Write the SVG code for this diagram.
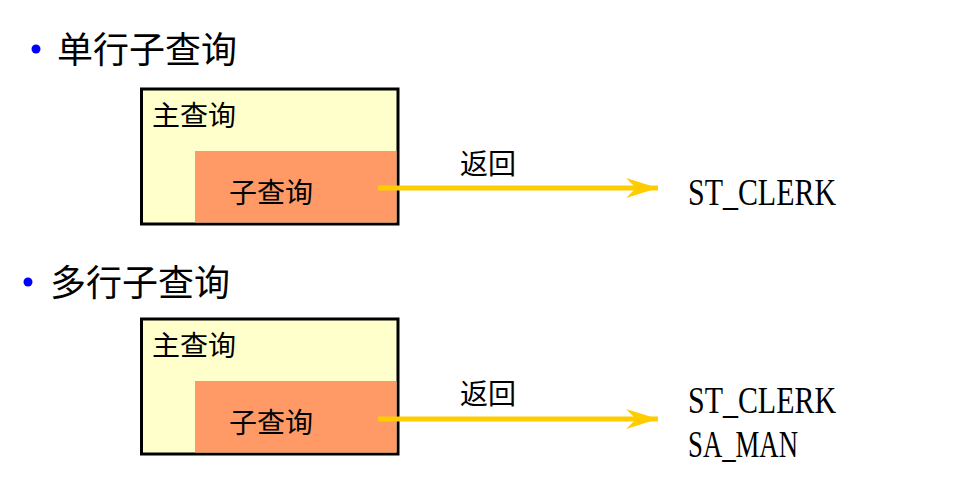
<svg xmlns="http://www.w3.org/2000/svg" width="959" height="502" viewBox="0 0 959 502">
  <style>
    .title { font-family: "Noto Sans CJK SC", sans-serif; font-size: 36px; fill: #000; }
    .cjk { font-family: "Noto Sans CJK SC", sans-serif; font-size: 28px; fill: #000; }
    .val { font-family: "Liberation Serif", "Noto Sans CJK SC", serif; font-size: 38px; fill: #000; }
    .outer { fill: #FFFFCC; stroke: #000; stroke-width: 3; }
    .inner { fill: #FF9966; stroke: none; }
    .arrow { stroke: #FFCC00; stroke-width: 5; fill: none; }
    .bullet { fill: #0000FF; }
  </style>
  <defs>
    <marker id="head" markerUnits="userSpaceOnUse" markerWidth="40" markerHeight="30" refX="34" refY="10" orient="auto">
      <polygon points="34,10 2,0 12,10 2,20" fill="#FFCC00"/>
    </marker>
  </defs>
  <rect width="959" height="502" fill="#FFFFFF"/>

  <!-- single-row subquery -->
  <g id="title-single">
    <circle class="bullet" cx="36" cy="49" r="4.5"/>
    <text class="title" x="57" y="63">单行子查询</text>
  </g>
  <g id="main-query-1">
    <rect class="outer" x="141.5" y="89" width="256.5" height="135"/>
    <text class="cjk" x="152" y="126">主查询</text>
  </g>
  <g id="sub-query-1">
    <rect class="inner" x="195" y="151" width="201.5" height="71.5"/>
    <text class="cjk" x="229" y="203">子查询</text>
  </g>
  <g id="result-1">
    <text class="val" x="688" y="205" textLength="148" lengthAdjust="spacingAndGlyphs">ST_CLERK</text>
  </g>

  <!-- multi-row subquery -->
  <g id="title-multi">
    <circle class="bullet" cx="28" cy="282" r="4.5"/>
    <text class="title" x="50" y="296">多行子查询</text>
  </g>
  <g id="main-query-2">
    <rect class="outer" x="141.5" y="319" width="256.5" height="135"/>
    <text class="cjk" x="152" y="356">主查询</text>
  </g>
  <g id="sub-query-2">
    <rect class="inner" x="195" y="381" width="201.5" height="71.5"/>
    <text class="cjk" x="229" y="433">子查询</text>
  </g>
  <g id="result-2">
    <text class="val" x="688" y="413" textLength="148" lengthAdjust="spacingAndGlyphs">ST_CLERK</text>
    <text class="val" x="688" y="457" textLength="110" lengthAdjust="spacingAndGlyphs">SA_MAN</text>
  </g>

  <!-- connectors -->
  <g id="connectors">
    <line class="arrow" x1="378" y1="188" x2="658" y2="188" marker-end="url(#head)"/>
    <text class="cjk" x="460" y="174">返回</text>
    <line class="arrow" x1="378" y1="419" x2="658" y2="419" marker-end="url(#head)"/>
    <text class="cjk" x="460" y="404">返回</text>
  </g>
</svg>
